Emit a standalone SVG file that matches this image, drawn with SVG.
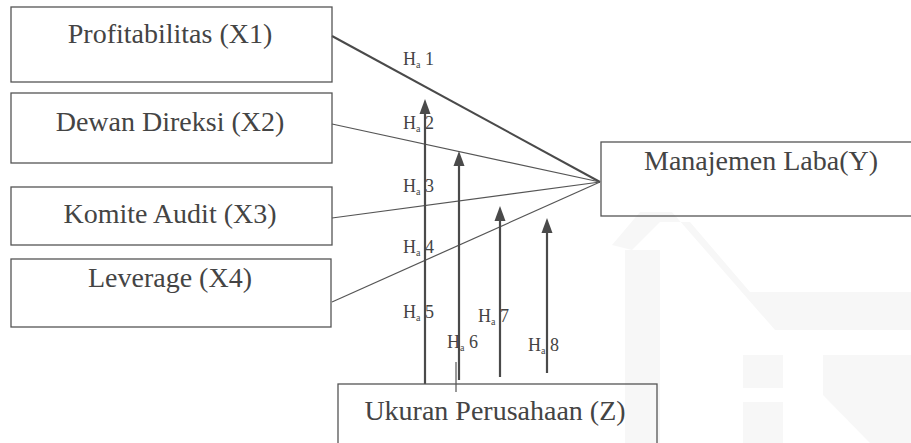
<svg xmlns="http://www.w3.org/2000/svg" width="911" height="443" viewBox="0 0 911 443">
<defs>
<style>
.box{fill:none;stroke:#555;stroke-width:1.3}
.t{font-family:"Liberation Serif","Times New Roman",serif;font-size:28px;fill:#444;text-anchor:middle}
.h{font-family:"Liberation Serif","Times New Roman",serif;font-size:18px;fill:#444}
.hs{font-size:10px}
.ln{stroke:#555;stroke-width:1.2;fill:none}
.ar{stroke:#4a4a4a;stroke-width:2.2;fill:none}
.head{fill:#4a4a4a}
.wm{fill:#f7f7f7}
</style>
</defs>
<rect width="911" height="443" fill="#fff"/>
<g id="watermark">
<polygon class="wm" points="612,245 640,212 672,212 775,330 911,330 911,292 750,292 690,222 660,222 632,250"/>
<polygon class="wm" points="625,250 660,250 660,443 625,443"/>
<polygon class="wm" points="743,355 783,355 783,388 743,388"/>
<polygon class="wm" points="743,402 783,402 783,443 743,443"/>
<polygon class="wm" points="823,355 911,355 911,443 870,443 823,395"/>
</g>
<g id="connectors">
<line x1="332" y1="36" x2="600" y2="182" stroke="#4a4a4a" stroke-width="2"/>
<line class="ln" x1="332" y1="124" x2="600" y2="182"/>
<line class="ln" x1="332" y1="218" x2="600" y2="182"/>
<line class="ln" x1="332" y1="302" x2="600" y2="182"/>
<line class="ar" x1="425" y1="384" x2="425" y2="110"/>
<polygon class="head" points="425,99 430.5,114 419.5,114"/>
<line class="ar" x1="459" y1="380" x2="459" y2="162"/>
<polygon class="head" points="459,151 464.5,166 453.5,166"/>
<line class="ar" x1="500" y1="377" x2="500" y2="217"/>
<polygon class="head" points="500,206 505.5,221 494.5,221"/>
<line class="ar" x1="547" y1="373" x2="547" y2="229"/>
<polygon class="head" points="547,218 552.5,233 541.5,233"/>
<line class="ln" x1="456" y1="362" x2="456" y2="392"/>
</g>
<g id="x1"><rect class="box" x="11" y="7" width="321" height="75"/><text class="t" x="170" y="43">Profitabilitas (X1)</text></g>
<g id="x2"><rect class="box" x="11" y="93" width="321" height="70"/><text class="t" x="170" y="131">Dewan Direksi (X2)</text></g>
<g id="x3"><rect class="box" x="11" y="187" width="321" height="58"/><text class="t" x="170" y="223">Komite Audit (X3)</text></g>
<g id="x4"><rect class="box" x="11" y="259" width="320" height="68"/><text class="t" x="170" y="287">Leverage (X4)</text></g>
<g id="y"><rect class="box" x="601" y="142" width="320" height="74"/><text class="t" x="761" y="170">Manajemen Laba(Y)</text></g>
<g id="z"><rect class="box" x="338" y="384" width="319" height="70"/><text class="t" x="495" y="420">Ukuran Perusahaan (Z)</text></g>
<g id="labels">
<text class="h" x="403" y="65">H<tspan class="hs" dy="3">a</tspan><tspan dy="-3"> 1</tspan></text>
<text class="h" x="403" y="129">H<tspan class="hs" dy="3">a</tspan><tspan dy="-3"> 2</tspan></text>
<text class="h" x="403" y="192">H<tspan class="hs" dy="3">a</tspan><tspan dy="-3"> 3</tspan></text>
<text class="h" x="403" y="253">H<tspan class="hs" dy="3">a</tspan><tspan dy="-3"> 4</tspan></text>
<text class="h" x="403" y="318">H<tspan class="hs" dy="3">a</tspan><tspan dy="-3"> 5</tspan></text>
<text class="h" x="447" y="348">H<tspan class="hs" dy="3">a</tspan><tspan dy="-3"> 6</tspan></text>
<text class="h" x="478" y="322">H<tspan class="hs" dy="3">a</tspan><tspan dy="-3"> 7</tspan></text>
<text class="h" x="528" y="351">H<tspan class="hs" dy="3">a</tspan><tspan dy="-3"> 8</tspan></text>
</g>
</svg>
